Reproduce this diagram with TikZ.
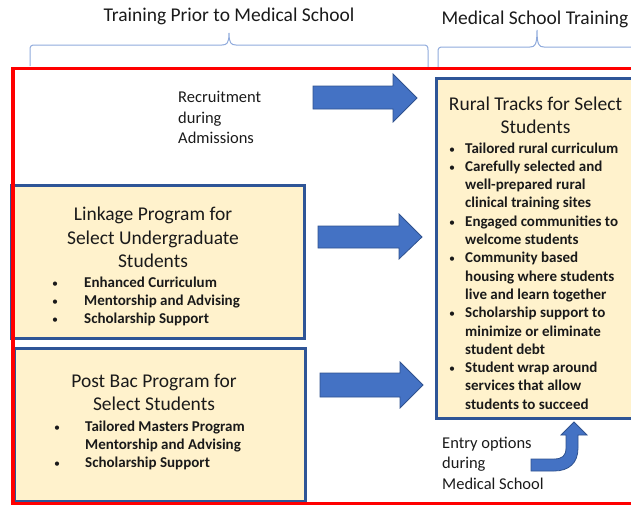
\documentclass[tikz,border=0pt]{standalone}
\usepackage{fontspec}
\setmainfont{Carlito}
\definecolor{boxfill}{HTML}{FFF2CC}
\definecolor{boxline}{HTML}{2F5597}
\definecolor{arrfill}{HTML}{4472C4}
\definecolor{arrline}{HTML}{2F528F}
\definecolor{bracecol}{HTML}{8FAADC}
\definecolor{framered}{HTML}{FF0000}
\definecolor{txt}{HTML}{1A1A1A}
\newcommand{\bul}[1]{\llap{\makebox[0pt]{\normalfont\fontsize{12}{12}\selectfont\textbullet}\hspace{#1}}}
\begin{document}
\begin{tikzpicture}[x=1pt,y=-1pt,
  panel/.style={draw=boxline, fill=boxfill, line width=3pt, anchor=north west, inner sep=0pt},
  blockarrow/.style={fill=arrfill, draw=arrline, line width=0.8pt, line join=miter},
  bracepath/.style={draw=bracecol, line width=1pt},
  headtext/.style={font=\fontsize{19.5}{23.5}\selectfont, text=txt, inner sep=0pt, anchor=base, align=center},
  plaintext/.style={font=\fontsize{16.5}{20.5}\selectfont, text=txt, inner sep=0pt, anchor=base west, align=left},
  bullettext/.style={font=\bfseries\fontsize{15}{18.3}\selectfont, text=txt, inner sep=0pt, anchor=base west, align=left}
]
\useasboundingbox (0,0) rectangle (631,506);
\begin{scope}
\clip (0,0) rectangle (631,506);

% braces
\draw[bracepath] (30,66) -- (30,50) .. controls (30,46) and (31,45) .. (35,45)
  -- (222,45) .. controls (227,45) and (229,43) .. (229,33)
  .. controls (229,43) and (231,45) .. (236,45)
  -- (423,45) .. controls (427,45) and (428,46) .. (428,50) -- (428,67);
\draw[bracepath] (438,67) -- (438,52) .. controls (438,48) and (439,47) .. (443,47)
  -- (530,47) .. controls (535,47) and (537,45) .. (537,30)
  .. controls (537,45) and (539,47) .. (544,47)
  -- (640,47);

% headings
\node[headtext] (hpre) at (229,21) {Training Prior to Medical School};
\node[headtext] (hmed) at (535,24) {Medical School Training};

% panels
\node[panel, minimum width=293pt, minimum height=153pt] (linkbox) at (10,184) {};
\node[panel, minimum width=291pt, minimum height=153pt] (postbox) at (13,347) {};
\node[panel, minimum width=220pt, minimum height=340pt] (ruralbox) at (435,77) {};

% red frame
\draw[draw=framered, line width=3.6pt] (13,68.5) rectangle (660,503.5);

% block arrows
\draw[blockarrow] (313,86) -- (393,86) -- (393,74) -- (417,98) -- (393,122) -- (393,109) -- (313,109) -- cycle;
\draw[blockarrow] (318,226) -- (399,226) -- (399,214) -- (422,237) -- (399,259) -- (399,248) -- (318,248) -- cycle;
\draw[blockarrow] (320,373) -- (400,373) -- (400,362) -- (423,385) -- (400,408) -- (400,397) -- (320,397) -- cycle;
\draw[blockarrow] (531,459) -- (554,459) .. controls (562,459) and (566,456) .. (566,448)
  -- (566,435) -- (561,435) -- (574,422) -- (587,435) -- (578,435) -- (578,448)
  .. controls (578,463) and (569,471) .. (554,471) -- (531,471) -- cycle;

% texts (base anchor = baseline of the last line)
\node[plaintext] (recruit) at (178,143.5) {Recruitment\\during\\Admissions};
\node[plaintext] (entry) at (442,489) {Entry options\\during\\Medical School};

\node[headtext] (ruraltitle) at (535.5,133.5) {Rural Tracks for Select\\Students};
\node[bullettext] (rurallist) at (465,409.2) {\bul{13pt}Tailored rural curriculum\\
\bul{13pt}Carefully selected and\\
well-prepared rural\\
clinical training sites\\
\bul{13pt}Engaged communities to\\
welcome students\\
\bul{13pt}Community based\\
housing where students\\
live and learn together\\
\bul{13pt}Scholarship support to\\
minimize or eliminate\\
student debt\\
\bul{13pt}Student wrap around\\
services that allow\\
students to succeed};

\node[headtext] (linktitle) at (153,267.5) {Linkage Program for\\Select Undergraduate\\Students};
\node[bullettext] (linklist) at (84,323.6) {\bul{29pt}Enhanced Curriculum\\
\bul{29pt}Mentorship and Advising\\
\bul{29pt}Scholarship Support};

\node[headtext] (posttitle) at (154,410.5) {Post Bac Program for\\Select Students};
\node[bullettext] (postlist) at (85,467.6) {\bul{28pt}Tailored Masters Program\\
Mentorship and Advising\\
\bul{28pt}Scholarship Support};
\end{scope}
\end{tikzpicture}
\end{document}
